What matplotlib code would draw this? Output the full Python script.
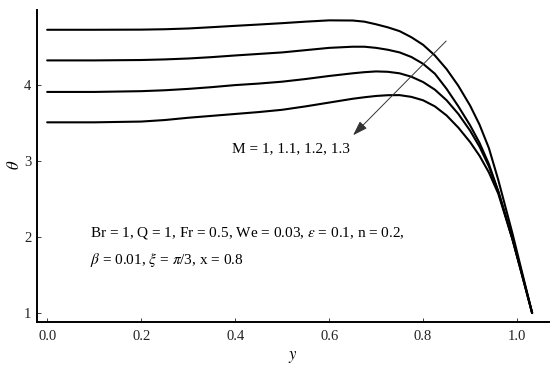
import matplotlib
matplotlib.use("Agg")
import matplotlib.pyplot as plt

plt.rcParams['font.family'] = ['Liberation Serif', 'DejaVu Serif']
plt.rcParams['mathtext.fontset'] = 'stix'

y_pos = [0.0, 0.1, 0.2, 0.25, 0.3, 0.35, 0.4, 0.45, 0.5, 0.55, 0.6, 0.65, 0.675, 0.7,
         0.725, 0.75, 0.775, 0.8, 0.825, 0.85, 0.875, 0.9, 0.92, 0.94, 0.96, 0.99, 1.01, 1.032]

# theta for M = 1, 1.1, 1.2, 1.3
th_m1 = [4.728, 4.728, 4.73, 4.735, 4.745, 4.762, 4.78, 4.797, 4.815, 4.835, 4.852, 4.85,
         4.835, 4.80, 4.76, 4.71, 4.63, 4.53, 4.39, 4.21, 3.99, 3.73, 3.48, 3.17, 2.75,
         2.05, 1.55, 1.0]
th_m2 = [4.325, 4.325, 4.33, 4.338, 4.35, 4.368, 4.39, 4.41, 4.43, 4.46, 4.49, 4.505,
         4.505, 4.49, 4.465, 4.43, 4.37, 4.28, 4.15, 3.95, 3.72, 3.47, 3.24, 2.96, 2.60,
         1.98, 1.52, 1.0]
th_m3 = [3.91, 3.91, 3.92, 3.932, 3.95, 3.973, 4.0, 4.02, 4.045, 4.08, 4.12, 4.155,
         4.17, 4.18, 4.175, 4.155, 4.11, 4.04, 3.94, 3.80, 3.62, 3.40, 3.19, 2.93, 2.60,
         1.98, 1.52, 1.0]
th_m4 = [3.51, 3.51, 3.52, 3.54, 3.57, 3.595, 3.62, 3.645, 3.675, 3.72, 3.77, 3.82,
         3.84, 3.857, 3.867, 3.868, 3.845, 3.80, 3.72, 3.60, 3.44, 3.25, 3.07, 2.85, 2.57,
         1.97, 1.51, 1.0]

x_ticks = [0.0, 0.2, 0.4, 0.6, 0.8, 1.0]
y_ticks = [1, 2, 3, 4]

fig = plt.figure(figsize=(5.5, 3.7), dpi=100)
ax = fig.add_axes([0.0673, 0.1297, 0.9327, 0.843])

for ts in [th_m1, th_m2, th_m3, th_m4]:
    ax.plot(y_pos, ts, color='black', lw=1.5, solid_capstyle='round',
            solid_joinstyle='round')

ax.set_xlim(-0.0216, 1.07)
ax.set_ylim(0.882, 4.987)
ax.set_xticks(x_ticks)
ax.set_xticklabels(['%.1f' % v for v in x_ticks])
ax.set_yticks(y_ticks)
ax.tick_params(direction='in', length=3, width=0.6, labelsize=10.5, colors='#222222')
ax.tick_params(axis='x', pad=6)
ax.tick_params(axis='y', pad=4)

for side in ['top', 'right']:
    ax.spines[side].set_visible(False)
for side in ['left', 'bottom']:
    ax.spines[side].set_linewidth(1.4)

# arrow for increasing M
ax.annotate('', xy=(0.651, 3.34), xytext=(0.849, 4.58),
            arrowprops=dict(arrowstyle='-|>,head_length=0.9,head_width=0.3',
                            color='#333333', lw=0.7, shrinkA=0, shrinkB=0))
ax.text(0.394, 3.16, 'M = 1, 1.1, 1.2, 1.3', fontsize=11, va='center', ha='left')

ax.text(0.0915, 2.05,
        r'Br = 1, Q = 1, Fr = 0.5, We = 0.03, $\varepsilon$ = 0.1, n = 0.2,',
        fontsize=11, va='center', ha='left')
ax.text(0.0915, 1.70, r'$\beta$ = 0.01, $\xi$ = $\pi$/3, x = 0.8',
        fontsize=11, va='center', ha='left')

fig.text(15 / 550, 1 - 165 / 370, r'$\theta$', rotation=90, fontsize=12,
         ha='center', va='center')
fig.text(293 / 550, 1 - 357 / 370, r'$y$', fontsize=12, ha='center', va='center')

fig.savefig('out.png', dpi=100)
